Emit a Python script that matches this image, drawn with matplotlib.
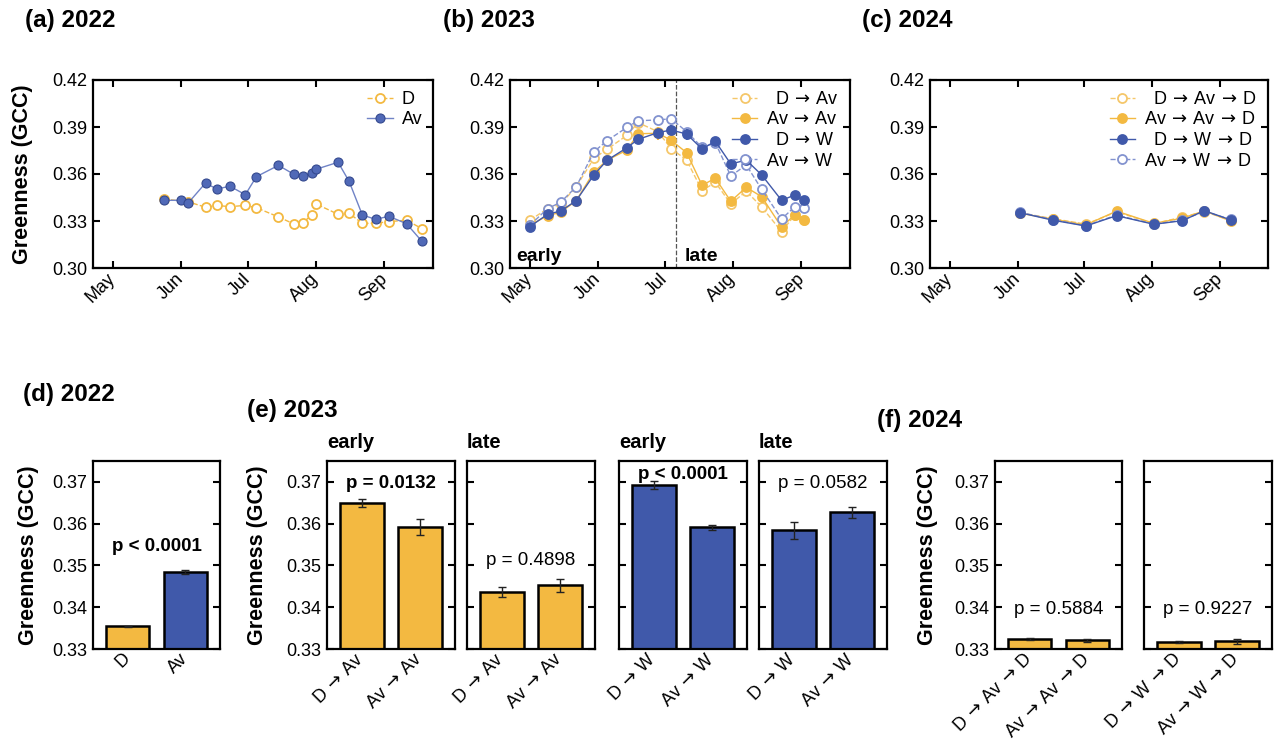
import numpy as np
import pandas as pd
import matplotlib
matplotlib.use("Agg")
import matplotlib.pyplot as plt
from matplotlib.ticker import FormatStrFormatter

plt.rcParams['font.family'] = ['Liberation Sans', 'DejaVu Sans']
plt.rcParams['mathtext.fontset'] = 'dejavusans'

ORANGE = '#F3B941'
BLUE = '#4059AA'
LIGHT_ORANGE = '#F5C76A'
LIGHT_BLUE = '#8393CF'
ARROW = '$\\,\\rightarrow\\,$'

# ---- (a) 2022 seasonal greenness ----
dates_2022_d = ['2022-05-24', '2022-06-04', '2022-06-12', '2022-06-17', '2022-06-23',
                '2022-06-30', '2022-07-05', '2022-07-15', '2022-07-22', '2022-07-26',
                '2022-07-30', '2022-08-01', '2022-08-11', '2022-08-16', '2022-08-22',
                '2022-08-28', '2022-09-03', '2022-09-11', '2022-09-18']
gcc_2022_d = [0.3440, 0.3423, 0.3388, 0.3400, 0.3391, 0.3400, 0.3385, 0.3326, 0.3281,
              0.3290, 0.3336, 0.3409, 0.3343, 0.3349, 0.3285, 0.3285, 0.3296, 0.3305, 0.3251]
dates_2022_av = ['2022-05-24', '2022-06-01', '2022-06-04', '2022-06-12', '2022-06-17',
                 '2022-06-23', '2022-06-30', '2022-07-05', '2022-07-15', '2022-07-22',
                 '2022-07-26', '2022-07-30', '2022-08-01', '2022-08-11', '2022-08-16',
                 '2022-08-22', '2022-08-28', '2022-09-03', '2022-09-11', '2022-09-18']
gcc_2022_av = [0.3432, 0.3432, 0.3413, 0.3543, 0.3504, 0.3522, 0.3468, 0.3583, 0.3655, 0.3598,
               0.3589, 0.3606, 0.3630, 0.3675, 0.3553, 0.3338, 0.3311, 0.3330, 0.3283, 0.3170]

# ---- (b) 2023 seasonal greenness ----
dates_2023 = ['2023-05-01', '2023-05-09', '2023-05-15', '2023-05-22', '2023-05-30',
              '2023-06-05', '2023-06-14', '2023-06-19', '2023-06-28', '2023-07-04',
              '2023-07-11', '2023-07-18', '2023-07-24', '2023-07-31', '2023-08-07',
              '2023-08-14', '2023-08-23', '2023-08-29', '2023-09-02']
gcc_2023_d_av = [0.3305, 0.3379, 0.3409, 0.3519, 0.3700, 0.3758, 0.3847, 0.3928, 0.3870, 0.3762,
                 0.3689, 0.3494, 0.3547, 0.3409, 0.3490, 0.3390, 0.3232, 0.3338, 0.3307]
gcc_2023_av_av = [0.3273, 0.3334, 0.3356, 0.3430, 0.3613, 0.3688, 0.3753, 0.3857, 0.3860, 0.3815,
                  0.3736, 0.3528, 0.3573, 0.3426, 0.3515, 0.3455, 0.3262, 0.3340, 0.3307]
gcc_2023_d_w = [0.3264, 0.3343, 0.3364, 0.3430, 0.3594, 0.3688, 0.3768, 0.3821, 0.3864, 0.3881,
                0.3855, 0.3760, 0.3809, 0.3664, 0.3689, 0.3594, 0.3432, 0.3466, 0.3432]
gcc_2023_av_w = [0.3273, 0.3379, 0.3420, 0.3519, 0.3742, 0.3813, 0.3898, 0.3940, 0.3945, 0.3953,
                 0.3870, 0.3770, 0.3800, 0.3587, 0.3658, 0.3502, 0.3313, 0.3391, 0.3383]
se_2023_d_av = [0.0008, 0.0008, 0.0008, 0.0008, 0.0008, 0.0008, 0.0010, 0.0010, 0.0015, 0.0020,
                0.0010, 0.0010, 0.0010, 0.0008, 0.0010, 0.0015, 0.0010, 0.0008, 0.0008]
se_2023_av_av = [0.0008, 0.0008, 0.0008, 0.0008, 0.0008, 0.0008, 0.0020, 0.0010, 0.0040, 0.0010,
                 0.0030, 0.0010, 0.0015, 0.0008, 0.0010, 0.0010, 0.0010, 0.0008, 0.0008]
se_2023_d_w = [0.0008, 0.0008, 0.0008, 0.0008, 0.0008, 0.0008, 0.0010, 0.0030, 0.0010, 0.0030,
               0.0035, 0.0010, 0.0020, 0.0008, 0.0010, 0.0020, 0.0008, 0.0008, 0.0008]
se_2023_av_w = [0.0008, 0.0008, 0.0008, 0.0008, 0.0008, 0.0008, 0.0010, 0.0010, 0.0010, 0.0020,
                0.0010, 0.0010, 0.0010, 0.0010, 0.0010, 0.0010, 0.0008, 0.0008, 0.0008]
split_2023 = '2023-07-06'

# ---- (c) 2024 seasonal greenness ----
dates_2024 = ['2024-06-02', '2024-06-17', '2024-07-02', '2024-07-16', '2024-08-02',
              '2024-08-15', '2024-08-25', '2024-09-06']
gcc_2024_d_av_d = [0.3352, 0.3315, 0.3280, 0.3358, 0.3283, 0.3325, 0.3360, 0.3305]
gcc_2024_av_av_d = [0.3350, 0.3312, 0.3275, 0.3363, 0.3285, 0.3318, 0.3365, 0.3300]
gcc_2024_d_w_d = [0.3353, 0.3305, 0.3268, 0.3334, 0.3279, 0.3302, 0.3366, 0.3307]
gcc_2024_av_w_d = [0.3356, 0.3308, 0.3270, 0.3338, 0.3280, 0.3305, 0.3362, 0.3310]

# ---- bar summaries ----
bar_2022_labels = ['D', 'Av']
bar_2022_mean = [0.3354, 0.3484]
bar_2022_se = [0.0001, 0.0005]

bar_2023_av_labels = [f'D{ARROW}Av', f'Av{ARROW}Av']
bar_2023_av_early = [0.3649, 0.3592]
bar_2023_av_early_se = [0.0010, 0.0018]
bar_2023_av_late = [0.3436, 0.3452]
bar_2023_av_late_se = [0.0012, 0.0015]

bar_2023_w_labels = [f'D{ARROW}W', f'Av{ARROW}W']
bar_2023_w_early = [0.3692, 0.3591]
bar_2023_w_early_se = [0.0010, 0.0007]
bar_2023_w_late = [0.3584, 0.3627]
bar_2023_w_late_se = [0.0021, 0.0014]

bar_2024_av_labels = [f'D{ARROW}Av{ARROW}D', f'Av{ARROW}Av{ARROW}D']
bar_2024_av = [0.3324, 0.3321]
bar_2024_av_se = [0.0002, 0.0004]
bar_2024_w_labels = [f'D{ARROW}W{ARROW}D', f'Av{ARROW}W{ARROW}D']
bar_2024_w = [0.3317, 0.3318]
bar_2024_w_se = [0.0002, 0.0005]

W, H = 1279, 740
fig = plt.figure(figsize=(W / 100, H / 100), dpi=100)


def px_axes(left, top, right, bottom):
    return fig.add_axes([left / W, 1 - bottom / H, (right - left) / W, (bottom - top) / H])


def frame(ax):
    for s in ax.spines.values():
        s.set_linewidth(1.6)


def style_time(ax, year):
    ax.set_ylim(0.30, 0.42)
    ax.set_yticks([0.30, 0.33, 0.36, 0.39, 0.42])
    ax.yaxis.set_major_formatter(FormatStrFormatter('%.2f'))
    ax.set_xlim(pd.Timestamp(f'{year}-04-22'), pd.Timestamp(f'{year}-09-23'))
    ax.set_xticks([pd.Timestamp(f'{year}-{m:02d}-01') for m in range(5, 10)])
    ax.set_xticklabels(['May', 'Jun', 'Jul', 'Aug', 'Sep'], rotation=45,
                       ha='right', va='center', rotation_mode='anchor')
    ax.tick_params(direction='in', top=True, right=True, length=5, width=1.5,
                   labelsize=13, pad=4)
    ax.tick_params(axis='x', pad=6)
    frame(ax)


def legend(ax, handles, labels):
    ax.legend(handles, labels, loc='upper right', frameon=False, fontsize=13,
              handlelength=1.4, handletextpad=0.5, borderaxespad=0.2, labelspacing=0.2)


def bar_panel(ax, labels, means, ses, color, ptext, bold, py, ylabels=True):
    x = np.arange(len(labels))
    ax.bar(x, means, width=0.75, color=color, edgecolor='black', linewidth=1.8, zorder=2)
    ax.errorbar(x, means, yerr=ses, fmt='none', ecolor='#222222', elinewidth=1,
                capsize=3, capthick=1, zorder=3)
    ax.set_ylim(0.33, 0.375)
    ax.set_yticks([0.33, 0.34, 0.35, 0.36, 0.37])
    ax.yaxis.set_major_formatter(FormatStrFormatter('%.2f'))
    ax.set_xlim(-0.595, 1.595)
    ax.set_xticks(x)
    ax.set_xticklabels(labels, rotation=45, ha='right', va='center', rotation_mode='anchor')
    ax.tick_params(axis='y', direction='in', left=True, right=True, length=5, width=1.5,
                   labelsize=13, pad=4, labelleft=ylabels)
    ax.tick_params(axis='x', length=0, labelsize=13, pad=5)
    ax.text(0.5, py, ptext, ha='center', va='center', fontsize=13.5,
            fontweight='bold' if bold else 'normal')
    frame(ax)


# (a) 2022
ax = px_axes(93, 80, 433, 268)
t = pd.to_datetime(dates_2022_d)
ax.plot(t, gcc_2022_d, ls='--', color=ORANGE, lw=1, marker='o', ms=6.5,
        mfc='white', mec=ORANGE, mew=1.3, label='D')
t = pd.to_datetime(dates_2022_av)
ax.plot(t, gcc_2022_av, ls='-', color='#7083C6', lw=1, marker='o', ms=6.5,
        mfc='#5069B7', mec='#34498F', mew=0.8, label='Av')
style_time(ax, 2022)
h, l = ax.get_legend_handles_labels()
legend(ax, h, l)

# (b) 2023
ax = px_axes(510, 80, 850, 268)
t = pd.to_datetime(dates_2023)
ax.axvline(pd.Timestamp(split_2023), color='#555555', ls='--', lw=0.9, zorder=0)
series_2023 = [
    (gcc_2023_d_av, se_2023_d_av, '--', LIGHT_ORANGE, 'white', f'\u2002D{ARROW}Av'),
    (gcc_2023_av_av, se_2023_av_av, '-', ORANGE, ORANGE, f'Av{ARROW}Av'),
    (gcc_2023_av_w, se_2023_av_w, '--', LIGHT_BLUE, 'white', f'Av{ARROW}W'),
    (gcc_2023_d_w, se_2023_d_w, '-', BLUE, BLUE, f'\u2002D{ARROW}W'),
]
for vals, se, ls, col, fill, lab in series_2023:
    ax.errorbar(t, vals, yerr=se, fmt='none', ecolor=col, elinewidth=1.5)
    ax.plot(t, vals, ls=ls, color=col, lw=1, marker='o', ms=6.5, mfc=fill, mec=col,
            mew=1.3, label=lab)
style_time(ax, 2023)
h, l = ax.get_legend_handles_labels()
order = [0, 1, 3, 2]
legend(ax, [h[i] for i in order], [l[i] for i in order])
ax.text(pd.Timestamp('2023-04-25'), 0.3075, 'early', fontsize=14, fontweight='bold',
        va='center')
ax.text(pd.Timestamp('2023-07-10'), 0.3075, 'late', fontsize=14, fontweight='bold',
        va='center')

# (c) 2024
ax = px_axes(930, 80, 1268, 268)
t = pd.to_datetime(dates_2024)
series_2024 = [
    (gcc_2024_d_av_d, '--', LIGHT_ORANGE, 'white', f'\u2002D{ARROW}Av{ARROW}D'),
    (gcc_2024_av_av_d, '-', ORANGE, ORANGE, f'Av{ARROW}Av{ARROW}D'),
    (gcc_2024_av_w_d, '--', LIGHT_BLUE, 'white', f'Av{ARROW}W{ARROW}D'),
    (gcc_2024_d_w_d, '-', BLUE, BLUE, f'\u2002D{ARROW}W{ARROW}D'),
]
for vals, ls, col, fill, lab in series_2024:
    ax.plot(t, vals, ls=ls, color=col, lw=1, marker='o', ms=6.5, mfc=fill, mec=col,
            mew=1.3, label=lab)
style_time(ax, 2024)
h, l = ax.get_legend_handles_labels()
legend(ax, [h[i] for i in order], [l[i] for i in order])

# (d) 2022 bars
ax = px_axes(93, 461, 220, 649)
bar_panel(ax, bar_2022_labels, bar_2022_mean, bar_2022_se, [ORANGE, BLUE],
          'p < 0.0001', True, 0.3546)

# (e) 2023 bars
ax = px_axes(327, 461, 455, 649)
bar_panel(ax, bar_2023_av_labels, bar_2023_av_early, bar_2023_av_early_se, ORANGE,
          'p = 0.0132', True, 0.3697)
ax = px_axes(467, 461, 595, 649)
bar_panel(ax, bar_2023_av_labels, bar_2023_av_late, bar_2023_av_late_se, ORANGE,
          'p = 0.4898', False, 0.3511, ylabels=False)
ax = px_axes(619, 461, 747, 649)
bar_panel(ax, bar_2023_w_labels, bar_2023_w_early, bar_2023_w_early_se, BLUE,
          'p < 0.0001', True, 0.3718, ylabels=False)
ax = px_axes(759, 461, 887, 649)
bar_panel(ax, bar_2023_w_labels, bar_2023_w_late, bar_2023_w_late_se, BLUE,
          'p = 0.0582', False, 0.3696, ylabels=False)

# (f) 2024 bars
ax = px_axes(995, 461, 1122, 649)
bar_panel(ax, bar_2024_av_labels, bar_2024_av, bar_2024_av_se, ORANGE,
          'p = 0.5884', False, 0.3394)
ax = px_axes(1144, 461, 1272, 649)
bar_panel(ax, bar_2024_w_labels, bar_2024_w, bar_2024_w_se, ORANGE,
          'p = 0.9227', False, 0.3394, ylabels=False)

# panel titles, sub-titles and axis labels
for x, y, s in [(25, 20, '(a) 2022'), (443, 20, '(b) 2023'), (862, 20, '(c) 2024'),
                (23, 395, '(d) 2022'), (247, 410, '(e) 2023'), (877, 420, '(f) 2024')]:
    fig.text(x / W, 1 - y / H, s, fontsize=17.5, fontweight='bold', va='center')
for x, s in [(327, 'early'), (467, 'late'), (619, 'early'), (759, 'late')]:
    fig.text(x / W, 1 - 443 / H, s, fontsize=14.5, fontweight='bold', va='center')
for x, y in [(23, 174), (29, 555), (257, 555), (927, 555)]:
    fig.text(x / W, 1 - y / H, 'Greenness (GCC)', fontsize=15.5, fontweight='bold',
             rotation=90, ha='center', va='center')

fig.savefig('out.png', dpi=100)
